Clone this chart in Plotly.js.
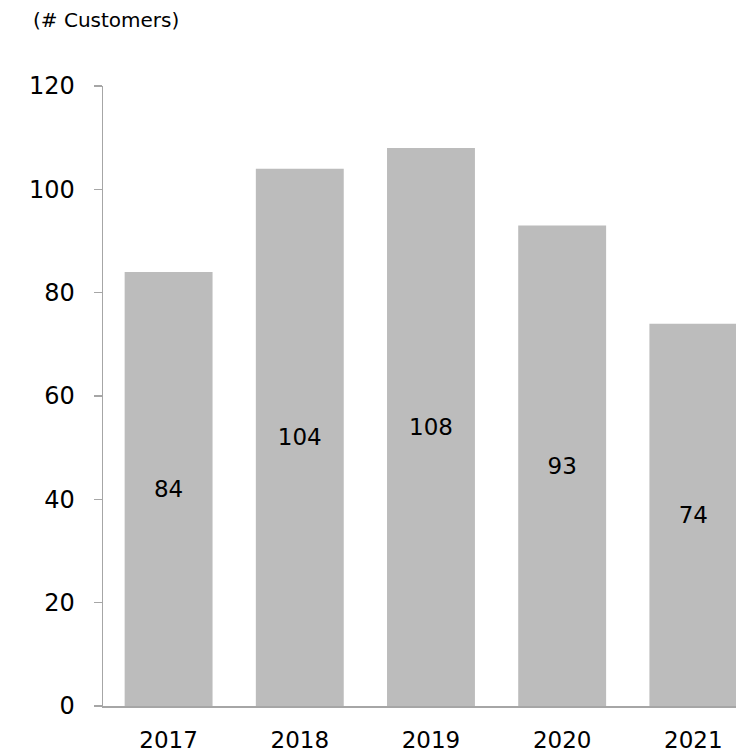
<!DOCTYPE html>
<html>
<head>
<meta charset="utf-8">
<script src="https://cdn.plot.ly/plotly-3.0.1.min.js"></script>
<style>html,body{margin:0;padding:0;background:#fff;}#chart{width:736px;height:754px;}</style>
</head>
<body>
<div id="chart"></div>
<script>
const years = ['2017', '2018', '2019', '2020', '2021'];
const customers = [84, 104, 108, 93, 74];
const unitLabel = '(# Customers)';

const FONT = '"DejaVu Sans", sans-serif';

Plotly.newPlot('chart', [{
  type: 'bar',
  x: years,
  y: customers,
  text: customers.map(String),
  textposition: 'inside',
  insidetextanchor: 'middle',
  textangle: 0,
  textfont: {family: FONT, size: 23, color: '#000'},
  marker: {color: '#bcbcbc'},
  width: 0.67,
  hoverinfo: 'none'
}], {
  width: 736, height: 754,
  margin: {l: 103, r: 0, t: 86, b: 48},
  paper_bgcolor: '#fff', plot_bgcolor: '#fff',
  showlegend: false,
  font: {family: FONT, size: 24, color: '#000'},
  xaxis: {
    type: 'category',
    range: [-0.5, 4.325],
    showline: true, linecolor: '#a6a6a6', linewidth: 1.5,
    ticks: '', showgrid: false, zeroline: false,
    ticklabelstandoff: 13,
    tickfont: {family: FONT, size: 23, color: '#000'}
  },
  yaxis: {
    range: [0, 120],
    tickvals: [0, 20, 40, 60, 80, 100, 120],
    showline: true, linecolor: '#a6a6a6', linewidth: 1.5,
    ticks: 'outside', ticklen: 8, tickcolor: '#a6a6a6', tickwidth: 1.5,
    showgrid: false, zeroline: false,
    ticklabelstandoff: 14,
    tickfont: {family: FONT, size: 24, color: '#000'}
  },
  annotations: [{
    text: unitLabel,
    xref: 'paper', yref: 'paper',
    x: -0.114, y: 1.106,
    xanchor: 'left', yanchor: 'middle',
    showarrow: false,
    font: {family: FONT, size: 20, color: '#000'}
  }]
}, {displayModeBar: false, staticPlot: true});
</script>
</body>
</html>
